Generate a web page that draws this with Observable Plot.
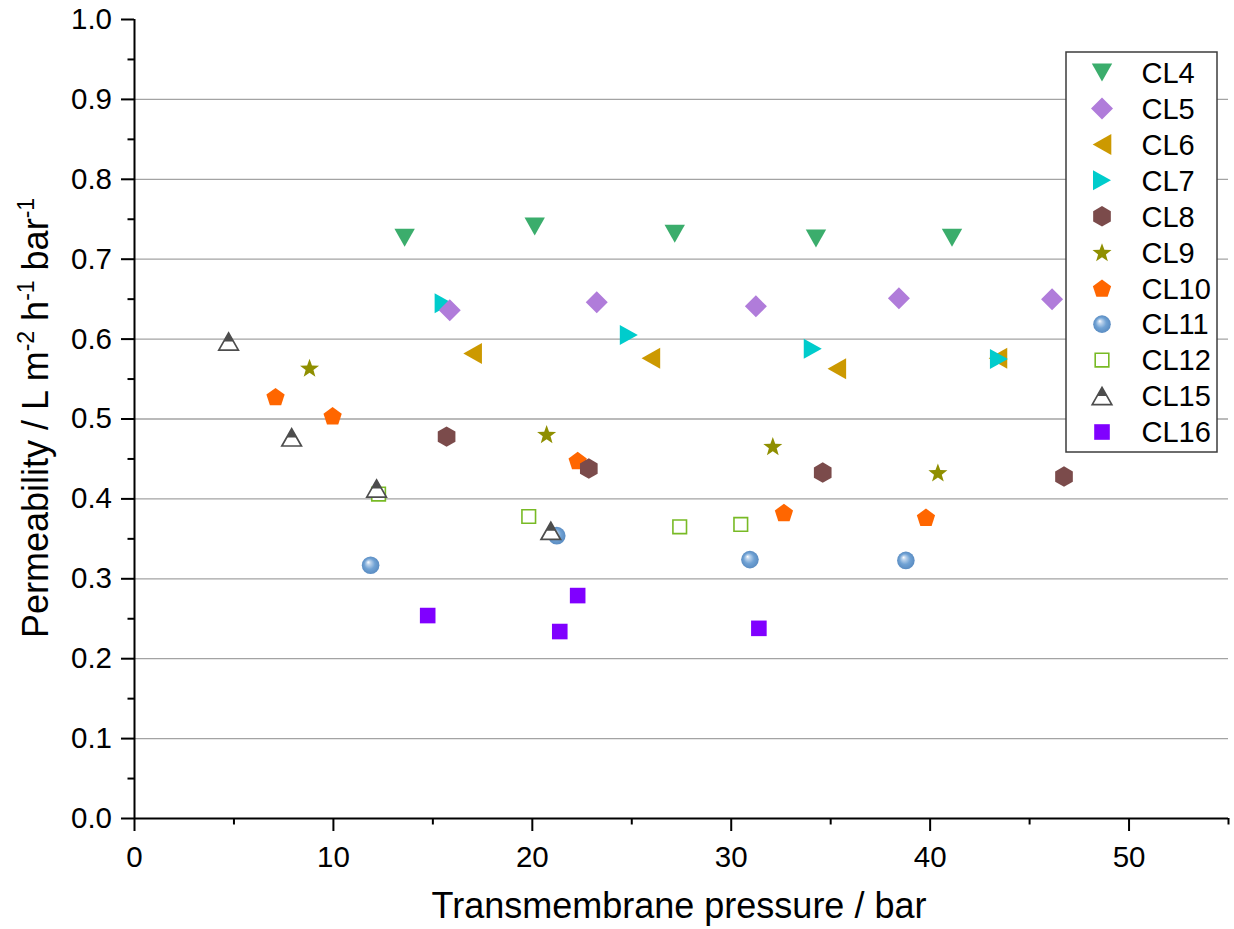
<!DOCTYPE html>
<html>
<head>
<meta charset="utf-8">
<script src="https://cdn.jsdelivr.net/npm/d3@7"></script>
<script src="https://cdn.jsdelivr.net/npm/@observablehq/plot@0.6"></script>
<style>
  html, body { margin: 0; padding: 0; background: white; }
  svg { display: block; }
</style>
</head>
<body>
<script>
// ---------- data ----------
const seriesNames = ["CL4","CL5","CL6","CL7","CL8","CL9","CL10","CL11","CL12","CL15","CL16"];

const cl4X  = [13.58, 20.12, 27.16, 34.26, 41.10];
const cl4Y  = [0.727, 0.741, 0.732, 0.726, 0.727];
const cl5X  = [15.85, 23.24, 31.24, 38.43, 46.13];
const cl5Y  = [0.636, 0.646, 0.641, 0.651, 0.650];
const cl6X  = [17.00, 25.96, 35.31, 43.41];
const cl6Y  = [0.582, 0.576, 0.563, 0.576];
const cl7X  = [15.54, 24.85, 34.10, 43.46];
const cl7Y  = [0.645, 0.605, 0.588, 0.575];
const cl8X  = [15.69, 22.84, 34.60, 46.73];
const cl8Y  = [0.478, 0.438, 0.433, 0.428];
const cl9X  = [8.80, 20.72, 32.09, 40.39];
const cl9Y  = [0.564, 0.481, 0.466, 0.433];
const cl10X = [7.09, 9.96, 22.28, 32.65, 39.79];
const cl10Y = [0.528, 0.504, 0.448, 0.383, 0.377];
const cl11X = [11.87, 21.23, 30.94, 38.78];
const cl11Y = [0.317, 0.354, 0.324, 0.323];
const cl12X = [12.27, 19.82, 27.41, 30.48];
const cl12Y = [0.406, 0.378, 0.365, 0.368];
const cl15X = [4.73, 7.90, 12.17, 20.93];
const cl15Y = [0.597, 0.477, 0.413, 0.360];
const cl16X = [14.74, 21.38, 22.28, 31.39];
const cl16Y = [0.254, 0.234, 0.279, 0.238];

const xMajor = [0, 10, 20, 30, 40, 50];
const xMinor = [5, 15, 25, 35, 45, 55];
const yMajor = [0, 0.1, 0.2, 0.3, 0.4, 0.5, 0.6, 0.7, 0.8, 0.9, 1.0];
const yMinor = [0.05, 0.15, 0.25, 0.35, 0.45, 0.55, 0.65, 0.75, 0.85, 0.95];
const yGrid  = [0.1, 0.2, 0.3, 0.4, 0.5, 0.6, 0.7, 0.8, 0.9];

const xTitle = "Transmembrane pressure / bar";

// ---------- symbols ----------
function poly(pts) {
  return { draw(ctx) {
    ctx.moveTo(pts[0][0], pts[0][1]);
    for (let i = 1; i < pts.length; i++) ctx.lineTo(pts[i][0], pts[i][1]);
    ctx.closePath();
  }};
}
function regular(n, R, dy) {
  const pts = [];
  for (let i = 0; i < n; i++) { const a = i * 2 * Math.PI / n; pts.push([R * Math.sin(a), -R * Math.cos(a) + dy]); }
  return pts;
}
function starPts(R, r, dy) {
  const pts = [];
  for (let i = 0; i < 10; i++) { const a = i * Math.PI / 5; const rr = i % 2 ? r : R; pts.push([rr * Math.sin(a), -rr * Math.cos(a) + dy]); }
  return pts;
}
const symDown   = poly([[-10.2, -9], [10.2, -9], [0, 9]]);
const symDiam   = poly([[0, -11], [11, 0], [0, 11], [-11, 0]]);
const symLeft   = poly([[-9.3, 0], [9.3, -10.5], [9.3, 10.5]]);
const symRight  = poly([[9, 0], [-9, -10], [-9, 10]]);
const symHex    = poly(regular(6, 10.2, 0));
const symPent   = poly(regular(5, 9.6, 0.9));
const symStar   = poly(starPts(10, 4.1, 0.9));
const symCircle = { draw(ctx) { ctx.moveTo(8.8, 0); ctx.arc(0, 0, 8.8, 0, 2 * Math.PI); } };
const symSqFill = poly([[-7.8, -7.8], [7.8, -7.8], [7.8, 7.8], [-7.8, 7.8]]);
const symSqOpen = poly([[-6.8, -6.8], [6.8, -6.8], [6.8, 6.8], [-6.8, 6.8]]);
const symUp     = poly([[0, -8.6], [9.8, 8.6], [-9.8, 8.6]]);
const symUpTop  = poly([[0, -8.6], [4.9, 0], [-4.9, 0]]);

const styles = {
  CL4:  [{ sym: symDown,  fill: "#3BAD6C" }],
  CL5:  [{ sym: symDiam,  fill: "#B07CDA" }],
  CL6:  [{ sym: symLeft,  fill: "#CC9900" }],
  CL7:  [{ sym: symRight, fill: "#00CCCC" }],
  CL8:  [{ sym: symHex,   fill: "#7B4B4B" }],
  CL9:  [{ sym: symStar,  fill: "#8F8F00" }],
  CL10: [{ sym: symPent,  fill: "#FF6600" }],
  CL11: [{ sym: symCircle, fill: "url(#sphereGrad)" }],
  CL12: [{ sym: symSqOpen, fill: "white", stroke: "#78BA25", strokeWidth: 1.6 }],
  CL15: [{ sym: symUp, fill: "white", stroke: "#4D4D4D", strokeWidth: 1.7 }, { sym: symUpTop, fill: "#4D4D4D" }],
  CL16: [{ sym: symSqFill, fill: "#8000FF" }]
};
const dataX = { CL4: cl4X, CL5: cl5X, CL6: cl6X, CL7: cl7X, CL8: cl8X, CL9: cl9X, CL10: cl10X, CL11: cl11X, CL12: cl12X, CL15: cl15X, CL16: cl16X };
const dataY = { CL4: cl4Y, CL5: cl5Y, CL6: cl6Y, CL7: cl7Y, CL8: cl8Y, CL9: cl9Y, CL10: cl10Y, CL11: cl11Y, CL12: cl12Y, CL15: cl15Y, CL16: cl16Y };

const drawOrder = ["CL16", "CL12", "CL11", "CL10", "CL9", "CL6", "CL7", "CL8", "CL5", "CL4", "CL15"];

const dotMarks = [];
for (const name of drawOrder) {
  const rows = dataX[name].map((x, i) => ({ x, y: dataY[name][i] }));
  for (const s of styles[name]) {
    dotMarks.push(Plot.dot(rows, {
      x: "x", y: "y", r: 9, symbol: s.sym,
      fill: s.fill, stroke: s.stroke || "none", strokeWidth: s.strokeWidth || 0
    }));
  }
}

const FONT = "'Liberation Sans', Arial, Helvetica, sans-serif";

const chart = Plot.plot({
  width: 1234, height: 929,
  marginLeft: 134, marginRight: 6, marginTop: 19, marginBottom: 111,
  x: { domain: [0, 55] },
  y: { domain: [0, 1] },
  style: { fontFamily: FONT, color: "black", background: "white", overflow: "visible" },
  marks: [
    Plot.ruleY(yGrid, { stroke: "#a3a3a3", strokeWidth: 1.3 }),
    ...dotMarks,
    Plot.axisY({ ticks: yMajor, tickFormat: d3.format(".1f"), tickSize: 13, tickPadding: 9.5, fontSize: 29.5, strokeWidth: 2, label: null, anchor: "left" }),
    Plot.axisY({ ticks: yMinor, tickFormat: () => "", tickSize: 6.5, strokeWidth: 2, label: null, anchor: "left" }),
    Plot.axisX({ ticks: xMajor, tickFormat: d3.format("d"), tickSize: 13, tickPadding: 15, fontSize: 29.5, strokeWidth: 2, label: null, anchor: "bottom" }),
    Plot.axisX({ ticks: xMinor, tickFormat: () => "", tickSize: 6.5, strokeWidth: 2, label: null, anchor: "bottom" }),
    Plot.ruleX([0], { stroke: "black", strokeWidth: 2 }),
    Plot.ruleY([0], { stroke: "black", strokeWidth: 2 })
  ]
});
document.body.appendChild(chart);

// ---------- defs, titles, legend ----------
const svg = d3.select(chart);
const defs = svg.insert("defs", ":first-child");
const g = defs.append("radialGradient").attr("id", "sphereGrad")
  .attr("cx", "0.5").attr("cy", "0.5").attr("r", "0.5")
  .attr("fx", "0.36").attr("fy", "0.32");
g.append("stop").attr("offset", "0").attr("stop-color", "#ffffff");
g.append("stop").attr("offset", "0.22").attr("stop-color", "#bcd3ec");
g.append("stop").attr("offset", "0.6").attr("stop-color", "#70a2d4");
g.append("stop").attr("offset", "1").attr("stop-color", "#5a8cc2");

// x title
svg.append("text")
  .attr("x", 679).attr("y", 918)
  .attr("text-anchor", "middle")
  .attr("font-family", FONT).attr("font-size", 36).attr("fill", "black")
  .text(xTitle);

// y title with superscripts
const yt = svg.append("text")
  .attr("transform", "translate(48,418) rotate(-90)")
  .attr("text-anchor", "middle")
  .attr("font-family", FONT).attr("font-size", 36).attr("fill", "black");
const yParts = [["Permeability / L m", 0], ["-2", 1], [" h", 0], ["-1", 1], [" bar", 0], ["-1", 1]];
let prevSup = false;
for (const [t, sup] of yParts) {
  const ts = yt.append("tspan").text(t);
  if (sup && !prevSup) ts.attr("dy", -14).attr("font-size", 23);
  else if (!sup && prevSup) ts.attr("dy", 14);
  else if (sup) ts.attr("font-size", 23);
  prevSup = !!sup;
}

// legend
const lg = svg.append("g");
lg.append("rect").attr("x", 1066).attr("y", 52).attr("width", 151).attr("height", 400)
  .attr("fill", "white").attr("stroke", "#3c3c3c").attr("stroke-width", 1.5);
seriesNames.forEach((name, i) => {
  const cy = 72.5 + i * 35.95;
  for (const s of styles[name]) {
    const p = d3.path(); s.sym.draw(p, 0);
    lg.append("path").attr("d", p.toString())
      .attr("transform", `translate(1102,${cy})`)
      .attr("fill", s.fill).attr("stroke", s.stroke || "none").attr("stroke-width", s.strokeWidth || 0);
  }
  lg.append("text").attr("x", 1141.5).attr("y", cy + 10.3)
    .attr("text-anchor", "start")
    .attr("font-family", FONT).attr("font-size", 29).attr("fill", "black")
    .text(name);
});
</script>
</body>
</html>
